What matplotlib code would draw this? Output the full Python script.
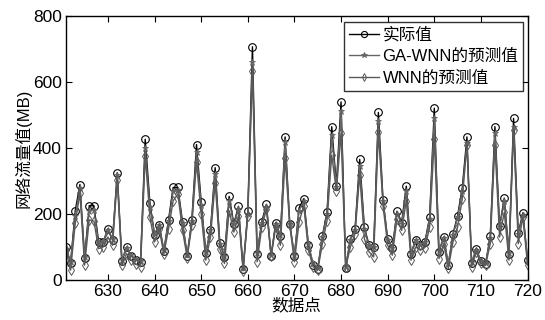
import numpy as np
import matplotlib.pyplot as plt

plt.rcParams['font.family'] = ['Liberation Sans', 'Noto Sans CJK SC']
plt.rcParams['axes.unicode_minus'] = False

# data point index
x = np.arange(621, 721)

# actual traffic values (MB)
actual = [100, 52, 210, 289, 67, 225, 225, 116, 116, 155,
          122, 325, 58, 100, 73, 61, 55, 426, 234, 137,
          167, 88, 182, 280, 280, 176, 73, 182, 410, 237,
          82, 152, 340, 112, 71, 253, 170, 223, 33, 208,
          706, 79, 177, 229, 73, 174, 132, 433, 170, 73,
          218, 246, 106, 46, 33, 134, 206, 464, 286, 539,
          36, 124, 154, 365, 159, 106, 99, 507, 243, 124,
          96, 208, 174, 284, 79, 122, 106, 116, 190, 520,
          86, 130, 46, 139, 195, 279, 433, 51, 93, 56,
          49, 132, 464, 162, 248, 79, 489, 142, 203, 61]

# GA-WNN predictions
ga_wnn = [95, 55, 195, 278, 70, 210, 212, 112, 118, 150,
          125, 318, 62, 98, 75, 63, 58, 400, 222, 140,
          165, 90, 178, 268, 272, 172, 76, 178, 388, 228,
          85, 150, 322, 110, 74, 240, 168, 215, 36, 200,
          660, 82, 172, 222, 75, 170, 135, 418, 168, 76,
          210, 238, 108, 50, 36, 130, 200, 440, 280, 510,
          40, 122, 150, 345, 155, 105, 100, 480, 238, 122,
          98, 200, 170, 268, 82, 120, 108, 115, 185, 490,
          88, 128, 50, 136, 190, 268, 415, 55, 92, 58,
          52, 128, 445, 160, 240, 82, 462, 140, 198, 63]

# WNN predictions
wnn = [90, 30, 172, 263, 45, 182, 178, 95, 100, 130,
       105, 304, 45, 80, 60, 48, 40, 375, 191, 115,
       155, 78, 155, 240, 260, 150, 68, 165, 356, 200,
       60, 130, 295, 95, 50, 210, 145, 195, 28, 195,
       633, 55, 160, 215, 72, 160, 105, 368, 165, 55,
       175, 225, 90, 40, 30, 110, 180, 378, 270, 444,
       38, 100, 140, 319, 125, 85, 70, 447, 225, 105,
       75, 185, 150, 240, 60, 100, 90, 98, 160, 427,
       65, 110, 35, 115, 160, 245, 410, 40, 85, 50,
       45, 110, 408, 130, 205, 60, 454, 110, 190, 45]

fig = plt.figure(figsize=(5.45, 3.2), dpi=100)
ax = fig.add_axes([0.121, 0.125, 0.847, 0.826])

ax.plot(x, actual, '-o', color='black', lw=1.0, ms=5.5, mfc='none', mew=0.8, label='实际值')
ax.plot(x, ga_wnn, '-*', color='#666666', lw=1.0, ms=5, mew=0.6, label='GA-WNN的预测值')
ax.plot(x, wnn, '-d', color='#595959', lw=1.0, ms=5, mfc='none', mew=0.7, label='WNN的预测值')

ax.set_xlim(621, 720)
ax.set_ylim(0, 800)
ax.set_xticks(np.arange(630, 721, 10))
ax.set_yticks(np.arange(0, 801, 200))
ax.tick_params(direction='in', top=True, right=True, labelsize=12.5, length=4, width=0.8, pad=3)
for s in ax.spines.values():
    s.set_linewidth(1.0)

ax.set_xlabel('数据点', fontsize=12, labelpad=-1)
ax.set_ylabel('网络流量值(MB)', fontsize=12, labelpad=1)

leg = ax.legend(loc='upper right', bbox_to_anchor=(0.991, 0.976), fontsize=12,
                frameon=True, fancybox=False, edgecolor='black', borderpad=0.3,
                handlelength=1.8, handletextpad=0.2, labelspacing=0.38,
                borderaxespad=0, markerscale=0.8)
leg.get_frame().set_linewidth(1.0)

plt.savefig('out.png', dpi=100)
